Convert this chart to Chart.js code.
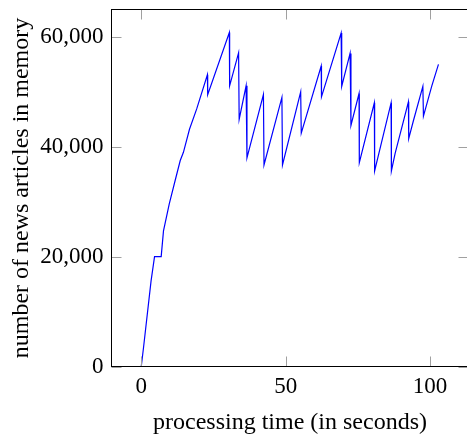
<!DOCTYPE html>
<html>
<head>
<meta charset="utf-8">
<script src="https://cdn.jsdelivr.net/npm/chart.js@4.4.1/dist/chart.umd.min.js"></script>
<style>
  html, body { margin: 0; padding: 0; background: #fff; overflow: hidden; }
  #wrap { width: 467px; height: 437px; overflow: hidden; }
</style>
</head>
<body>
<div id="wrap"><canvas id="memChart" width="470" height="437"></canvas></div>
<script>
// processing time (s) and articles held in memory
const times = [0, 0.8, 3.4, 4.6, 6.9, 7.7, 9.7, 11.8, 13.5, 14.6, 16.7, 19.2, 22.9, 23.0,
  30.5, 30.6, 33.7, 33.9, 36.3, 36.6, 42.3, 42.5, 48.7, 48.9, 55.2, 55.4, 62.3, 62.4,
  69.2, 69.4, 72.3, 72.6, 75.4, 75.5, 80.7, 80.8, 86.5, 86.6, 87.9, 92.5, 92.6, 94.2,
  97.5, 97.7, 100.6, 102.9];
const articles = [0, 3500, 15600, 20000, 20000, 24700, 29600, 34000, 37500, 39000, 43200, 46900, 53100, 49500,
  60800, 51100, 57100, 45000, 51100, 38000, 49500, 36700, 49000, 36700, 50000, 42500, 54700, 49100,
  60700, 51000, 57000, 43900, 49700, 37100, 48000, 35600, 48000, 35600, 38800, 48200, 41500, 44700,
  51000, 45600, 51100, 55000];
const xTicks = [0, 50, 100];
const yTicks = [0, 20000, 40000, 60000];

const serif = "'Liberation Serif', 'DejaVu Serif', serif";

// pgfplots-like frame with inward ticks on all four sides
const frameTicks = {
  id: "frameTicks",
  afterDatasetsDraw(chart) {
    const { ctx, chartArea: a, scales: { x, y } } = chart;
    ctx.save();
    ctx.lineWidth = 1;
    ctx.strokeStyle = "#a0a0a0";
    ctx.beginPath();
    x.ticks.forEach(t => {
      const px = Math.round(x.getPixelForValue(t.value)) + 0.5;
      ctx.moveTo(px, a.bottom); ctx.lineTo(px, a.bottom - 10);
      ctx.moveTo(px, a.top); ctx.lineTo(px, a.top + 10);
    });
    y.ticks.forEach(t => {
      const py = Math.round(y.getPixelForValue(t.value)) + 0.5;
      ctx.moveTo(a.left, py); ctx.lineTo(a.left + 10, py);
      ctx.moveTo(a.right, py); ctx.lineTo(a.right - 10, py);
    });
    ctx.stroke();
    ctx.strokeStyle = "#000";
    ctx.strokeRect(a.left, a.top, a.right - a.left, a.bottom - a.top);
    ctx.restore();
  }
};

new Chart(document.getElementById("memChart"), {
  type: "line",
  data: {
    datasets: [{
      data: times.map((t, i) => ({ x: t, y: articles[i] })),
      borderColor: "#0000ff",
      borderWidth: 1.2,
      pointRadius: 0,
      tension: 0,
      fill: false
    }]
  },
  options: {
    responsive: false,
    animation: false,
    layout: { padding: { top: 9.5, right: 1.5, bottom: 0, left: 0 } },
    plugins: { legend: { display: false }, tooltip: { enabled: false } },
    scales: {
      x: {
        type: "linear",
        min: -10.3,
        max: 113.3,
        afterBuildTicks: s => { s.ticks = xTicks.map(v => ({ value: v })); },
        afterFit: s => { s.height = 70.5; s.paddingLeft = 0; s.paddingRight = 0; },
        grid: { display: false, drawTicks: false },
        border: { display: false },
        ticks: { color: "#000", padding: 7, font: { family: serif, size: 23 } },
        title: {
          display: true,
          text: "processing time (in seconds)",
          color: "#000",
          padding: { top: 0, bottom: 0 },
          font: { family: serif, size: 24 }
        }
      },
      y: {
        min: 0,
        max: 65000,
        afterBuildTicks: s => { s.ticks = yTicks.map(v => ({ value: v })); },
        afterFit: s => { s.width = 111.5; s.paddingTop = 0; s.paddingBottom = 0; },
        grid: { display: false, drawTicks: false },
        border: { display: false },
        ticks: {
          color: "#000",
          padding: 8,
          font: { family: serif, size: 23 },
          callback: v => v.toLocaleString("en-US")
        },
        title: {
          display: true,
          text: "number of news articles in memory",
          color: "#000",
          padding: { top: 7, bottom: 0 },
          font: { family: serif, size: 24 }
        }
      }
    }
  },
  plugins: [frameTicks]
});
</script>
</body>
</html>
